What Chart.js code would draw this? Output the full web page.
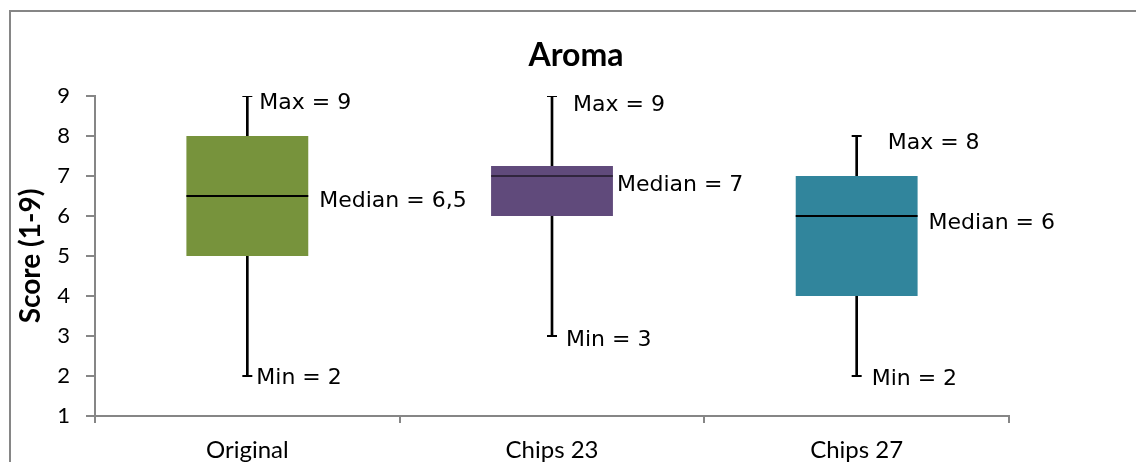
<!DOCTYPE html>
<html>
<head>
<meta charset="utf-8">
<title>Aroma</title>
<script src="https://cdn.jsdelivr.net/npm/chart.js@4.4.1/dist/chart.umd.min.js"></script>
<style>
  html, body { margin: 0; padding: 0; background: #fff; overflow: hidden; }
  #wrap { width: 1136px; height: 462px; position: relative; }
</style>
</head>
<body>
<div id="wrap"><canvas id="c"></canvas></div>
<script>
// Five-number summaries per sample (score scale 1-9)
const categories = ['Original', 'Chips 23', 'Chips 27'];
const minValues = [2, 3, 2];
const q1Values = [5, 6, 4];
const medianValues = [6.5, 7, 6];
const q3Values = [8, 7.25, 7];
const maxValues = [9, 9, 8];
const yTicks = [1, 2, 3, 4, 5, 6, 7, 8, 9];

const boxColors = ['#77933C', '#604A7B', '#31859C'];
const axisGray = '#868686';
const titleText = 'Aroma';
const yTitleText = 'Score (1-9)';

// decimal comma, as in the labels
const fmt = v => String(v).replace('.', ',');

// half of a box's width, so the median stroke spans the box
function halfBox(ctx) {
  const xs = ctx.chart.scales.x;
  if (!xs) return 0;
  return (xs.width / categories.length) * 0.4 / 2;
}

// outer frame (top and left edges visible)
const framePlugin = {
  id: 'frame',
  beforeDraw(chart) {
    const c = chart.ctx;
    c.save();
    c.strokeStyle = axisGray;
    c.lineWidth = 2;
    c.beginPath();
    c.moveTo(10, chart.height + 5);
    c.lineTo(10, 11);
    c.lineTo(chart.width + 5, 11);
    c.stroke();
    c.restore();
  }
};

// chart heading
const headingPlugin = {
  id: 'heading',
  afterDraw(chart) {
    const c = chart.ctx;
    c.save();
    c.fillStyle = '#000';
    c.font = 'bold 32px Lato';
    c.textAlign = 'center';
    c.textBaseline = 'alphabetic';
    c.fillText(titleText, 576, 66);
    c.restore();
  }
};

// "Max = ..", "Median = ..", "Min = .." annotations beside each box
const statLabelPlugin = {
  id: 'statLabels',
  afterDatasetsDraw(chart, args, opts) {
    const c = chart.ctx;
    const xs = chart.scales.x, ys = chart.scales.y;
    const boxMeta = chart.getDatasetMeta(opts.boxDataset);
    c.save();
    c.fillStyle = '#000';
    c.font = opts.font;
    c.textAlign = 'left';
    c.textBaseline = 'alphabetic';
    const half = opts.capHalf;
    categories.forEach((cat, i) => {
      const cx = xs.getPixelForValue(i);
      const bar = boxMeta.data[i];
      const right = bar.x + bar.width / 2;
      const [mxdx, mxdy] = opts.offsets.max[i];
      const [mddx, mddy] = opts.offsets.median[i];
      const [mndx, mndy] = opts.offsets.min[i];
      c.fillText('Max = ' + fmt(maxValues[i]), cx + mxdx, ys.getPixelForValue(maxValues[i]) + mxdy + half);
      c.fillText('Median = ' + fmt(medianValues[i]), right + mddx, ys.getPixelForValue(medianValues[i]) + mddy + half);
      c.fillText('Min = ' + fmt(minValues[i]), cx + mndx, ys.getPixelForValue(minValues[i]) + mndy + half);
    });
    c.restore();
  }
};

function build() {
  new Chart(document.getElementById('c'), {
    type: 'bar',
    data: {
      labels: categories,
      datasets: [
        {
          type: 'line', label: 'Median', data: medianValues, showLine: false,
          pointStyle: 'line', pointRadius: halfBox, pointHoverRadius: halfBox,
          pointBorderColor: '#000', pointBackgroundColor: '#000',
          pointBorderWidth: [2, 1, 2], order: 1
        },
        {
          type: 'line', label: 'Max', data: maxValues, showLine: false,
          pointStyle: 'line', pointRadius: 5, pointHoverRadius: 5,
          pointBorderColor: '#000', pointBorderWidth: 2, order: 1
        },
        {
          type: 'line', label: 'Min', data: minValues, showLine: false,
          pointStyle: 'line', pointRadius: 5, pointHoverRadius: 5,
          pointBorderColor: '#000', pointBorderWidth: 2, order: 1
        },
        {
          label: 'Box', data: categories.map((_, i) => [q1Values[i], q3Values[i]]),
          backgroundColor: boxColors, borderWidth: 0,
          categoryPercentage: 0.4, barPercentage: 1, grouped: false, order: 2
        },
        {
          label: 'Range', data: categories.map((_, i) => [minValues[i], maxValues[i]]),
          backgroundColor: '#000', borderWidth: 0,
          barThickness: 2, grouped: false, order: 3
        }
      ]
    },
    options: {
      responsive: true,
      maintainAspectRatio: false,
      animation: false,
      events: [],
      layout: { padding: { top: 96, right: 127, left: 0, bottom: 0 } },
      plugins: {
        legend: { display: false },
        title: { display: false },
        tooltip: { enabled: false },
        statLabels: {
          boxDataset: 3,
          font: '22px "DejaVu Sans"',
          capHalf: 8,
          offsets: {
            max: [[12, 5], [21, 7], [31, 4.5]],
            median: [[11, 3], [4, 6.5], [11, 5]],
            min: [[9, 0], [14, 1.5], [15, 0.5]]
          }
        }
      },
      scales: {
        x: {
          offset: true,
          grid: { display: true, drawOnChartArea: false, drawTicks: true, tickLength: 7, color: axisGray, lineWidth: 2, offset: true },
          border: { display: true, color: axisGray, width: 2 },
          ticks: { color: '#000', font: { family: 'Lato', size: 24 }, padding: 13, maxRotation: 0 },
          afterFit(s) { s.height = 46; }
        },
        y: {
          min: 1, max: 9,
          afterBuildTicks(s) { s.ticks = yTicks.map(v => ({ value: v })); },
          grid: { display: true, drawOnChartArea: false, drawTicks: true, tickLength: 9, color: axisGray, lineWidth: 2 },
          border: { display: true, color: axisGray, width: 2 },
          ticks: { color: '#000', font: { family: 'Lato', size: 22 }, padding: 16 },
          title: {
            display: true, text: yTitleText, color: '#000',
            font: { family: 'Lato', size: 28, weight: 'bold' },
            padding: { top: 14, bottom: 0 }
          },
          afterFit(s) { s.width = 95; }
        }
      }
    },
    plugins: [framePlugin, headingPlugin, statLabelPlugin]
  });
}

Promise.all([
  document.fonts.load('22px Lato'),
  document.fonts.load('bold 32px Lato'),
  document.fonts.load('22px "DejaVu Sans"')
]).then(build, build);
</script>
</body>
</html>
